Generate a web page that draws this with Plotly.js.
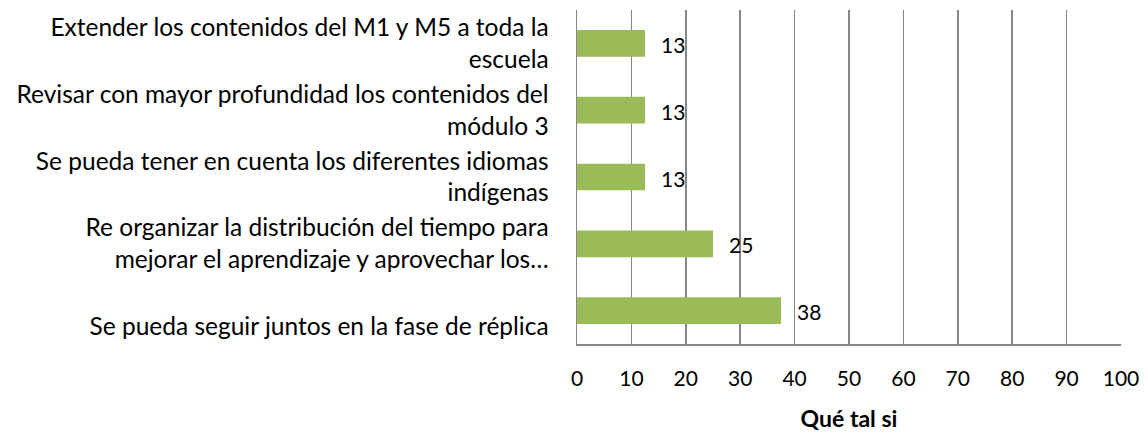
<!DOCTYPE html>
<html>
<head>
<meta charset="utf-8">
<script src="https://cdn.plot.ly/plotly-3.0.1.min.js"></script>
<style>
  html, body { margin: 0; padding: 0; background: #fff; }
  #chart { width: 1148px; height: 433px; }
</style>
</head>
<body>
<div id="chart"></div>
<script>
// categories top to bottom
const categories = [
  'Extender los contenidos del M1 y M5 a toda la<br>escuela',
  'Revisar con mayor profundidad los contenidos del<br>módulo 3',
  'Se pueda tener en cuenta los diferentes idiomas<br>indígenas',
  'Re organizar la distribución del tiempo para<br>mejorar el aprendizaje y aprovechar los…',
  '<br>Se pueda seguir juntos en la fase de réplica'
];
const values = [12.5, 12.5, 12.5, 25, 37.5];
const valueLabels = values.map(v => String(Math.round(v)));
const xTicks = [0, 10, 20, 30, 40, 50, 60, 70, 80, 90, 100];

const font = 'Lato, "Open Sans", sans-serif';

const data = [{
  type: 'bar',
  orientation: 'h',
  y: categories,
  x: values,
  marker: { color: '#9bbb59' },
  hoverinfo: 'none'
}];

// value labels sit a bit right of each bar end
const annotations = values.map((v, i) => ({
  x: v,
  y: categories[i],
  text: valueLabels[i],
  xanchor: 'left',
  xshift: 14,
  yshift: -1,
  showarrow: false,
  font: { family: font, size: 21, color: '#000' }
}));

const layout = {
  width: 1148,
  height: 433,
  margin: { l: 577, r: 27, t: 10, b: 89 },
  paper_bgcolor: '#fff',
  plot_bgcolor: '#fff',
  showlegend: false,
  bargap: 0.6,
  font: { family: font, size: 21, color: '#000' },
  xaxis: {
    range: [0, 100],
    tickvals: xTicks,
    ticktext: xTicks.map(String),
    showgrid: true,
    gridcolor: '#878787',
    gridwidth: 1.5,
    showline: true,
    linecolor: '#878787',
    linewidth: 1.5,
    zeroline: false,
    ticks: 'outside',
    ticklen: 15,
    tickcolor: 'rgba(0,0,0,0)',
    tickfont: { family: font, size: 21, color: '#000' },
    title: { text: '<b>Qué tal si</b>', font: { family: font, size: 23, color: '#000' }, standoff: 22 },
    fixedrange: true
  },
  yaxis: {
    autorange: 'reversed',
    showline: true,
    linecolor: '#878787',
    linewidth: 1.5,
    showgrid: false,
    ticks: 'outside',
    ticklen: 22,
    tickcolor: 'rgba(0,0,0,0)',
    tickfont: { family: font, size: 24.5, color: '#000' },
    fixedrange: true
  },
  annotations: annotations
};

Plotly.newPlot('chart', data, layout, { displayModeBar: false, staticPlot: true });
</script>
</body>
</html>
